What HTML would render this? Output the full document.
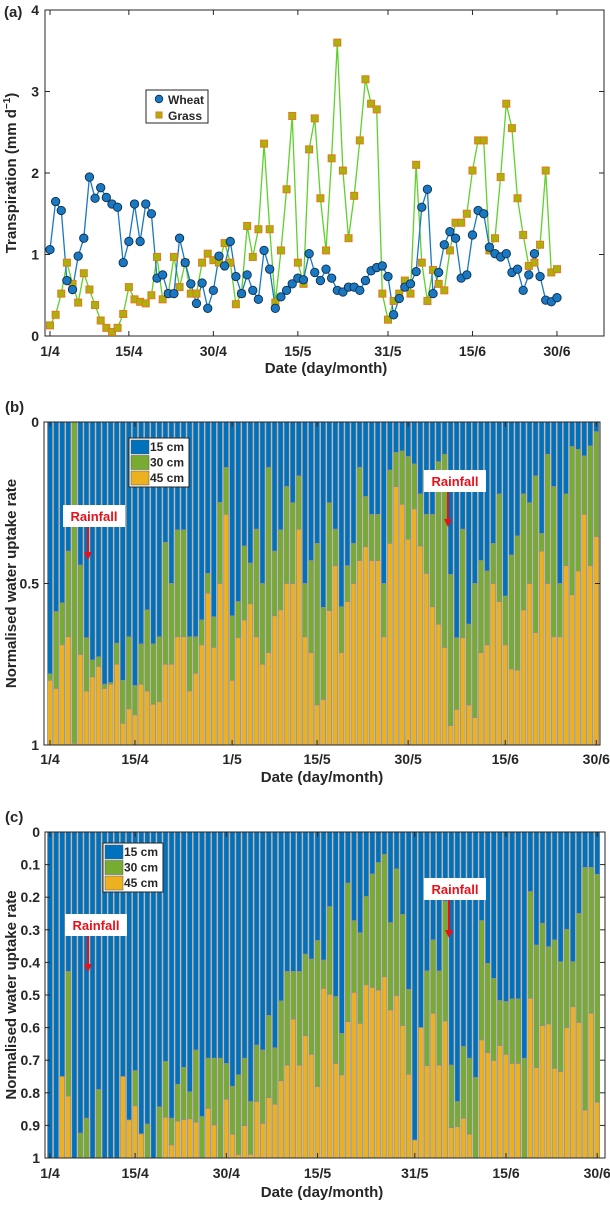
<!DOCTYPE html>
<html><head><meta charset="utf-8"><style>
html,body{margin:0;padding:0;background:#fff;}
svg text{font-family:"Liberation Sans",Arial,sans-serif;font-weight:bold;fill:#262626;}
</style></head><body>
<svg id="root" width="610" height="1200" viewBox="0 0 610 1200" xmlns="http://www.w3.org/2000/svg">
<g id="pa"></g>
<g id="pb"></g>
<g id="pc"></g>
</svg>
<script>
// ---- Panel (a) data ----
const wheatT = [1.06,1.65,1.54,0.68,0.57,0.98,1.20,1.95,1.69,1.82,1.70,1.62,1.58,0.90,1.16,1.62,1.16,1.62,1.50,0.71,0.75,0.52,0.52,1.20,0.90,0.64,0.40,0.65,0.34,0.56,0.98,0.86,1.16,0.73,0.52,0.75,0.56,0.45,1.05,0.82,0.34,0.48,0.56,0.64,0.71,0.69,1.01,0.78,0.68,0.82,0.71,0.56,0.54,0.60,0.60,0.56,0.68,0.80,0.84,0.86,0.73,0.26,0.46,0.60,0.64,0.79,1.58,1.80,0.52,0.78,1.12,1.28,1.20,0.71,0.75,1.24,1.54,1.50,1.09,1.01,0.97,1.01,0.78,0.82,0.56,0.75,1.01,0.73,0.44,0.42,0.47];
const grassT = [0.13,0.26,0.52,0.90,0.64,0.41,0.77,0.57,0.38,0.19,0.10,0.05,0.10,0.27,0.60,0.45,0.42,0.40,0.50,0.97,0.45,0.52,0.97,0.60,0.90,0.52,0.52,0.90,1.01,0.93,0.90,1.14,0.90,0.39,0.52,1.35,0.97,1.31,2.36,1.31,0.41,1.05,1.80,2.70,0.90,0.64,2.29,2.67,1.69,1.05,2.18,3.60,2.03,1.20,1.72,2.40,3.15,2.85,2.78,0.52,0.20,0.43,0.52,0.68,0.52,2.10,0.90,0.43,0.81,0.64,0.56,1.05,1.39,1.39,1.50,2.03,2.40,2.40,1.05,1.20,1.95,2.85,2.55,1.69,1.24,0.86,0.90,1.12,2.03,0.78,0.82];
const ticksA_x = [0,14,29,44,60,75,90];
const labelsA_x = ["1/4","15/4","30/4","15/5","31/5","15/6","30/6"];
const ticksA_y = [0,1,2,3,4];

// ---- Panel (b) data: cumulative fraction (15 cm, 15+30 cm) ----
const cum15B = [0.78,0.587,0.56,0.40,0.0,0.443,0.668,0.737,0.727,0.812,0.807,0.685,0.80,0.665,0.816,0.687,0.582,0.687,0.665,0.373,0.50,0.334,0.334,0.665,0.665,0.613,0.469,0.603,0.249,0.141,0.60,0.556,0.384,0.437,0.332,0.50,0.141,0.40,0.334,0.20,0.25,0.167,0.50,0.429,0.376,0.574,0.25,0.332,0.572,0.445,0.376,0.141,0.231,0.286,0.286,0.50,0.149,0.094,0.09,0.107,0.13,0.223,0.286,0.286,0.123,0.10,0.472,0.668,0.332,0.626,0.50,0.429,0.461,0.376,0.223,0.539,0.412,0.353,0.223,0.25,0.167,0.345,0.10,0.20,0.50,0.223,0.076,0.085,0.105,0.074,0.03];
const cum30B = [0.80,0.825,0.69,0.665,0.995,0.72,0.833,0.789,0.757,0.825,0.812,0.75,0.933,0.888,0.907,0.812,0.833,0.874,0.866,0.75,0.75,0.665,0.665,0.833,0.778,0.69,0.53,0.698,0.50,0.286,0.80,0.668,0.613,0.563,0.665,0.75,0.714,0.60,0.582,0.50,0.50,0.332,0.665,0.714,0.876,0.859,0.584,0.445,0.714,0.556,0.50,0.429,0.386,0.429,0.429,0.665,0.376,0.20,0.255,0.363,0.269,0.384,0.469,0.572,0.626,0.698,0.94,0.89,0.668,0.876,0.915,0.714,0.69,0.50,0.556,0.69,0.765,0.768,0.582,0.50,0.652,0.40,0.50,0.665,0.665,0.445,0.535,0.461,0.286,0.445,0.355];

// ---- Panel (c) data ----
const cum15C = [1,1,0.75,0.428,1,0.924,0.878,1,0.79,1,1,1,0.75,0.883,0.732,0.926,0.896,1,0.843,0.704,0.878,0.774,0.722,0.797,0.669,0.873,0.694,0.694,0.694,0.71,0.78,0.745,0.694,0.827,0.654,0.669,0.563,0.662,0.518,0.428,0.428,0.428,0.375,0.39,0.333,0.393,0.229,0.505,0.618,0.157,0.272,0.309,0.198,0.129,0.094,0.069,0.278,0.113,0.253,0.483,0.945,0.60,0.426,0.331,0.426,0.212,0.715,0.827,0.658,0.694,0.753,0.272,0.403,0.449,0.517,0.52,0.512,0.512,0.694,0.183,0.347,0.28,0.352,0.331,0.398,0.299,0.398,0.25,0.109,0.109,0.13];
const cum30C = [1,1,0.75,0.81,1,1,1,1,1,1,1,1,0.75,0.883,0.84,0.926,1,1,1,0.875,0.96,0.887,0.882,0.88,0.89,1,0.848,0.899,1,0.82,0.927,0.99,0.901,0.989,0.827,0.894,0.815,0.835,0.763,0.715,0.574,0.715,0.625,0.682,0.781,0.48,0.498,0.71,0.745,0.582,0.492,0.587,0.469,0.477,0.485,0.444,0.546,0.502,0.594,0.743,0.945,0.60,0.717,0.556,0.715,0.58,0.907,0.904,0.878,0.927,1,0.638,0.677,0.701,0.655,0.682,0.71,0.71,1,0.51,0.723,0.594,0.589,0.725,0.735,0.60,0.536,0.584,0.853,0.556,0.829];
const ticksBC_x_B = [0,14,30,44,59,75,90];
const labelsB_x = ["1/4","15/4","1/5","15/5","30/5","15/6","30/6"];
const ticksB_y = [0,0.5,1];
const labelsB_y = ["0","0.5","1"];
const ticksC_x = [0,14,29,44,60,75,90];
const labelsC_x = ["1/4","15/4","30/4","15/5","31/5","15/6","30/6"];
const ticksC_y = [0,0.1,0.2,0.3,0.4,0.5,0.6,0.7,0.8,0.9,1];
const labelsC_y = ["0","0.1","0.2","0.3","0.4","0.5","0.6","0.7","0.8","0.9","1"];

const NS = "http://www.w3.org/2000/svg";
function mk(parent, tag, attrs, txt) {
  const e = document.createElementNS(NS, tag);
  for (const k in attrs) e.setAttribute(k, attrs[k]);
  if (txt !== undefined) e.textContent = txt;
  parent.appendChild(e);
  return e;
}
const BLUE="#0072BD", GREEN="#77AC30", YEL="#EDB120";

function axesBox(g, L, T, R, B) {
  const r = mk(g, "rect", {x:L, y:T, width:R-L, height:B-T, fill:"none", stroke:"#262626", "stroke-width":1});
  
  
}

// ===== Panel A =====
(function(){
  const g = document.getElementById("pa");
  const L=45, R=604, T=10, B=336;
  const xA = d => 50 + d*5.633;
  const yA = v => B - v*81.5;
  axesBox(g, L, T, R, B);
  ticksA_y.forEach(v => {
    const t = mk(g,"line",{x1:L,x2:L+5,y1:yA(v),y2:yA(v),stroke:"#262626"});
    
    
    mk(g,"line",{x1:R,x2:R-5,y1:yA(v),y2:yA(v),stroke:"#262626"});
    const tl = mk(g,"text",{x:L-6,y:yA(v)+5,"text-anchor":"end","font-size":14}, String(v));
    
    
  });
  ticksA_x.forEach((d,i) => {
    mk(g,"line",{x1:xA(d),x2:xA(d),y1:B,y2:B-5,stroke:"#262626"});
    mk(g,"line",{x1:xA(d),x2:xA(d),y1:T,y2:T+5,stroke:"#262626"});
    const tl = mk(g,"text",{x:xA(d),y:356,"text-anchor":"middle","font-size":14}, labelsA_x[i]);
    
    
  });
  const gl = grassT.map((v,i)=>xA(i).toFixed(1)+","+yA(v).toFixed(1)).join(" ");
  const gline = mk(g,"polyline",{points:gl,fill:"none",stroke:"#5ED12B","stroke-width":1.3});
  
  
  const wl = wheatT.map((v,i)=>xA(i).toFixed(1)+","+yA(v).toFixed(1)).join(" ");
  const wline = mk(g,"polyline",{points:wl,fill:"none",stroke:"#1A78C2","stroke-width":1.3});
  
  
  grassT.forEach((v,i) => {
    const m = mk(g,"rect",{x:xA(i)-3.5,y:yA(v)-3.5,width:7,height:7,fill:"#A9B10A",stroke:"#E8761E","stroke-width":1});
    
    
  });
  wheatT.forEach((v,i) => {
    const m = mk(g,"circle",{cx:xA(i),cy:yA(v),r:4.2,fill:"#1A78C2",stroke:"#0b2f4d","stroke-width":0.9});
    
    
  });
  const lg = mk(g,"g",{});
  
  
  mk(lg,"rect",{x:146,y:90,width:62,height:33,fill:"#fff",stroke:"#262626"});
  mk(lg,"circle",{cx:159,cy:99,r:3.8,fill:"#1A78C2",stroke:"#0b2f4d","stroke-width":0.8});
  mk(lg,"text",{x:168,y:104,"font-size":12},"Wheat");
  mk(lg,"rect",{x:156,y:112,width:6,height:6,fill:"#A9B10A",stroke:"#E8761E"});
  mk(lg,"text",{x:168,y:120,"font-size":12},"Grass");
  const xl = mk(g,"text",{x:326,y:373,"text-anchor":"middle","font-size":15},"Date (day/month)");
  
  
  const yl = mk(g,"text",{x:0,y:0,"text-anchor":"middle","font-size":15,transform:"translate(16,173) rotate(-90)"});
  
  
  yl.innerHTML = 'Transpiration (mm d<tspan dy="-6" font-size="10">−1</tspan><tspan dy="6">)</tspan>';
  const pl = mk(g,"text",{x:4,y:17,"font-size":15},"(a)");
  
  
})();

// ===== Stacked panels =====
function stacked(gid, L, R, T, B, x0, step, c15, c30, ticksX, labX, ticksY, labY, panelLbl, leg, rain1, rain2, xtY, xlY) {
  const g = document.getElementById(gid);
  const yS = v => T + v*(B-T);
  const xS = d => x0 + d*step;
  const w = step*0.82;
  c15.forEach((v,i) => {
    const xl = xS(i)-w/2;
    const b1 = mk(g,"rect",{x:xl,y:yS(0),width:w,height:yS(v)-yS(0),fill:BLUE,stroke:"#8e8e8e","stroke-width":0.7});
    
    
    const b2 = mk(g,"rect",{x:xl,y:yS(v),width:w,height:Math.max(0,yS(c30[i])-yS(v)),fill:GREEN,stroke:"#8e8e8e","stroke-width":0.7});
    
    
    const b3 = mk(g,"rect",{x:xl,y:yS(c30[i]),width:w,height:Math.max(0,yS(1)-yS(c30[i])),fill:YEL,stroke:"#8e8e8e","stroke-width":0.7});
    
    
  });
  axesBox(g, L, T, R, B);
  ticksY.forEach((v,i) => {
    mk(g,"line",{x1:L,x2:L+5,y1:yS(v),y2:yS(v),stroke:"#262626"});
    mk(g,"line",{x1:R,x2:R-5,y1:yS(v),y2:yS(v),stroke:"#262626"});
    const tl = mk(g,"text",{x:L-5,y:yS(v)+5,"text-anchor":"end","font-size":14}, labY[i]);
    
    
  });
  ticksX.forEach((d,i) => {
    mk(g,"line",{x1:xS(d),x2:xS(d),y1:B,y2:B-5,stroke:"#262626"});
    mk(g,"line",{x1:xS(d),x2:xS(d),y1:T,y2:T+5,stroke:"#262626"});
    const tl = mk(g,"text",{x:xS(d),y:xtY,"text-anchor":"middle","font-size":14}, labX[i]);
    
    
  });
  const lg = mk(g,"g",{});
  
  
  mk(lg,"rect",{x:leg[0],y:leg[1],width:60,height:49,fill:"#fff",stroke:"#262626"});
  [[BLUE,"15 cm"],[GREEN,"30 cm"],[YEL,"45 cm"]].forEach((e,k)=>{
    mk(lg,"rect",{x:leg[0]+2,y:leg[1]+2+k*15.5,width:18,height:14,fill:e[0],stroke:"#555","stroke-width":0.5});
    mk(lg,"text",{x:leg[0]+21,y:leg[1]+13+k*15.5,"font-size":12},e[1]);
  });
  [rain1, rain2].forEach(r => {
    const ra = mk(g,"g",{});
    
    
    mk(ra,"rect",{x:r[0],y:r[1],width:62,height:22,fill:"#fff"});
    mk(ra,"text",{x:r[0]+31,y:r[1]+16,"text-anchor":"middle","font-size":13,style:"fill:#E8101A"},"Rainfall");
    mk(ra,"line",{x1:r[2],x2:r[2],y1:r[1]+22,y2:r[3]-6,stroke:"#E8101A","stroke-width":2});
    mk(ra,"polygon",{points:`${r[2]-4},${r[3]-8} ${r[2]+4},${r[3]-8} ${r[2]},${r[3]}`,fill:"#E8101A"});
  });
  const xl = mk(g,"text",{x:322,y:xlY,"text-anchor":"middle","font-size":15},"Date (day/month)");
  
  
  const yl = mk(g,"text",{x:0,y:0,"text-anchor":"middle","font-size":15,transform:`translate(16,${(T+B)/2}) rotate(-90)`},"Normalised water uptake rate");
  
  
  const pl = mk(g,"text",{x:5,y:T-10,"font-size":15},panelLbl);
  
  
}
stacked("pb", 44, 600, 422, 745, 50, 6.07, cum15B, cum30B, ticksBC_x_B, labelsB_x, ticksB_y, labelsB_y, "(b)",
  [129,438], [63,505,88,560], [424,470,448,527], 764, 782);
stacked("pc", 45, 605, 832, 1158, 50, 6.08, cum15C, cum30C, ticksC_x, labelsC_x, ticksC_y, labelsC_y, "(c)",
  [103,843], [65,914,88,972], [424,878,449,938], 1178, 1197);
</script>
</body></html>
